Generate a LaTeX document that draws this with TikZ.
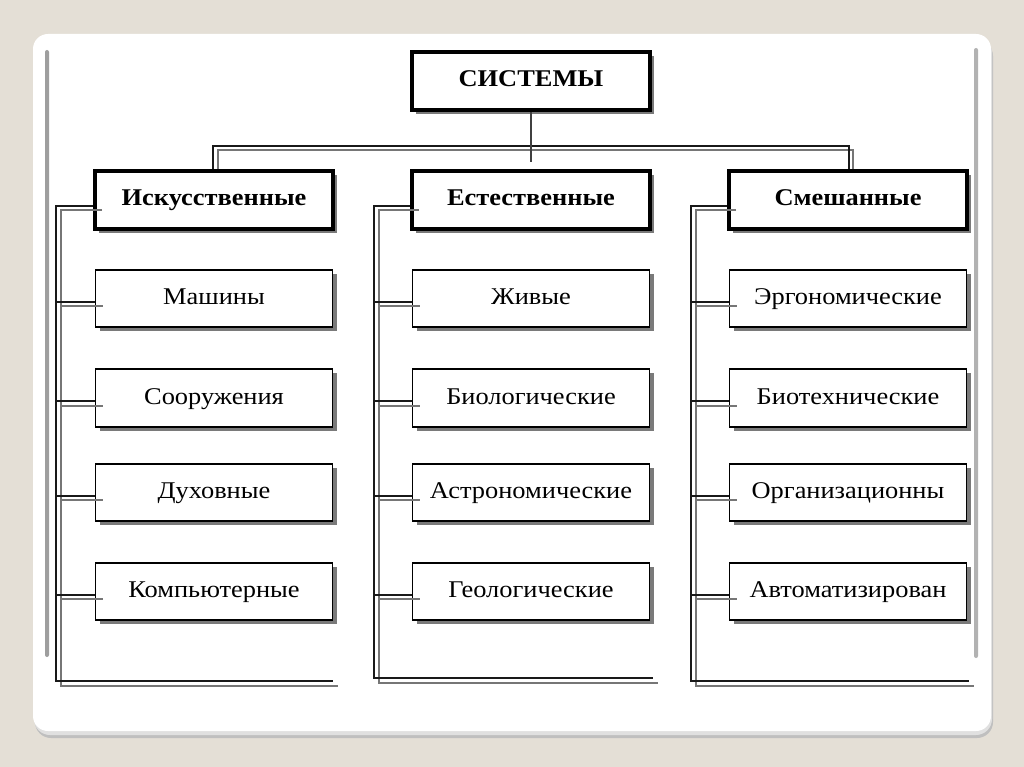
\documentclass[tikz,border=0pt]{standalone}
\usepackage{fontspec}
\setmainfont{Liberation Serif}
\newfontfamily\widefont[FakeStretch=1.1]{Liberation Serif}
\usetikzlibrary{shadows}
\definecolor{bg}{HTML}{E4DFD6}
\definecolor{lg}{HTML}{767676}
\definecolor{sh}{HTML}{7A7A7A}
\begin{document}
\begin{tikzpicture}[x=1pt,y=-1pt,
  blk/.style={line width=2pt, black!90},
  gry/.style={line width=2pt, lg},
  boxbase/.style={draw, fill=white, inner sep=0pt, align=center,
    text height=17pt, text depth=5pt,
    drop shadow={shadow xshift=4pt, shadow yshift=-4pt, fill=sh, opacity=1}},
  topbox/.style={boxbase, line width=3.6pt, minimum width=238pt, minimum height=58pt,
    font=\widefont\bfseries\fontsize{24}{28}\selectfont},
  childbox/.style={boxbase, line width=1.6pt, minimum width=237pt, minimum height=57.5pt,
    font=\widefont\fontsize{24}{28}\selectfont}
]
\useasboundingbox (0,0) rectangle (1024,767);
\fill[bg] (0,0) rectangle (1024,767);
% card with shadow
\fill[black!25, rounded corners=16pt] (35,40) rectangle (993,738);
\fill[black!12, rounded corners=16pt] (34,37) rectangle (992,735);
\fill[white, rounded corners=15pt] (33,34) rectangle (991,731);
% inner gray edges
\fill[black!38, rounded corners=2pt] (45,50) rectangle (49,657);
\fill[black!30, rounded corners=2pt] (974,48) rectangle (978,658);

% nodes
\node[topbox] (sys) at (531,81) {СИСТЕМЫ};
\node[topbox] (a0) at (214,200) {Искусственные};
\node[topbox] (b0) at (531,200) {Естественные};
\node[topbox] (c0) at (848,200) {Смешанные};

\node[childbox] (a1) at (214,298.5) {Машины};
\node[childbox] (a2) at (214,398) {Сооружения};
\node[childbox] (a3) at (214,492.5) {Духовные};
\node[childbox] (a4) at (214,591.5) {Компьютерные};

\node[childbox] (b1) at (531,298.5) {Живые};
\node[childbox] (b2) at (531,398) {Биологические};
\node[childbox] (b3) at (531,492.5) {Астрономические};
\node[childbox] (b4) at (531,591.5) {Геологические};

\node[childbox] (c1) at (848,298.5) {Эргономические};
\node[childbox] (c2) at (848,398) {Биотехнические};
\node[childbox] (c3) at (848,492.5) {Организационны};
\node[childbox] (c4) at (848,591.5) {Автоматизирован};

% bus from the top box
\coordinate (bus) at (531,146);
\coordinate (hub) at (531,162);
\draw[gry] ([xshift=4pt]a0.north) |- ([yshift=-4.5pt]bus) -| ([xshift=5pt]c0.north);
\draw[blk] ([xshift=-1pt]a0.north) |- (bus) -| ([xshift=1pt]c0.north);
\draw[line width=1.5pt, black!75] (sys.south) -- (hub);

% column spines
\coordinate (aB) at (56,681);  \coordinate (aE) at (333,681);
\coordinate (bB) at (374,678); \coordinate (bE) at (653,678);
\coordinate (cB) at (691,681); \coordinate (cE) at (969,681);

\foreach \c in {a,b,c}{
  \draw[gry] ([xshift=9pt,yshift=-10pt]\c0.west) -| ([xshift=4.5pt,yshift=-4.5pt]\c B) -- ([xshift=5pt,yshift=-4.5pt]\c E);
  \draw[blk] ([yshift=-6pt]\c0.west) -| (\c B) -- (\c E);
  \foreach \i in {1,2,3,4}{
    \draw[gry] ([xshift=8pt,yshift=-7.5pt]\c\i.west) -- ([xshift=4.5pt,yshift=-7.5pt]\c\i.west -| \c B);
    \draw[blk] ([yshift=-3pt]\c\i.west) -- ([yshift=-3pt]\c\i.west -| \c B);
  }
}
\end{tikzpicture}
\end{document}
